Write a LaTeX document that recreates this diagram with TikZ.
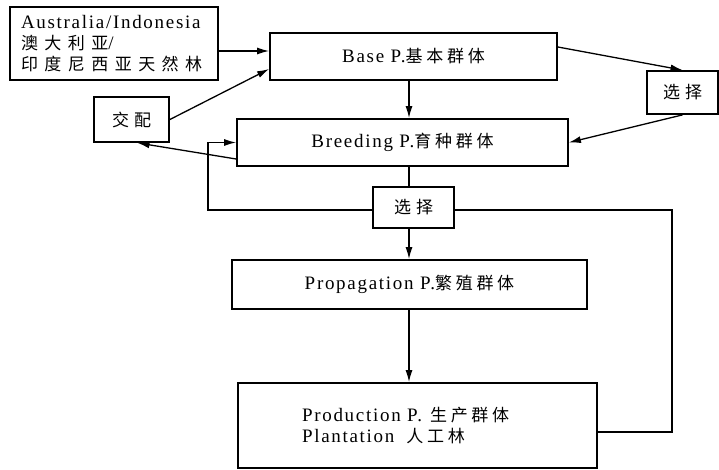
\documentclass[tikz,border=0pt]{standalone}
\usepackage{fontspec}
\setmainfont{Liberation Serif}[LetterSpace=9]
\newfontfamily\cjk{Noto Sans CJK SC}[LetterSpace=22]
\newfontfamily\cjkwide{Noto Sans CJK SC}[LetterSpace=38]
\newcommand{\zh}[1]{{\cjk\fontsize{17}{21}\selectfont #1}}
\newcommand{\zhw}[1]{{\cjkwide\fontsize{17}{21}\selectfont #1}}
\usetikzlibrary{positioning,calc,arrows.meta}

\begin{document}
\begin{tikzpicture}[x=1pt,y=-1pt,
    font=\fontsize{19}{21}\selectfont,
    box/.style={draw,line width=1.8pt,rectangle,inner sep=0pt},
    arr/.style={-{Latex[length=12pt,width=7pt]},line width=1.3pt},
    line/.style={line width=1.3pt}]
    \useasboundingbox (0,0) rectangle (719,470);

    % Natural forest, base and breeding populations
    \node[box,minimum width=208,minimum height=73,text width=186,align=left] (aus) at (114,43.5) {Australia/Indonesia\\ \zhw{澳大利亚}/\\ \zhw{印度尼西亚天然林}};
    \node[box,minimum width=287,minimum height=47] (base) at (413.5,56.5) {Base P.\zh{基本群体}};
    \node[box,minimum width=75,minimum height=45] (mate) at (131.5,119.5) {\zh{交\hspace{5pt}配}};
    \node[box,minimum width=331,minimum height=47] (breed) at (402.5,142.5) {Breeding P.\zh{育种群体}};
    \node[box,minimum width=71,minimum height=43] (selR) at (682.5,92.5) {\zh{选\hspace{5pt}择}};

    % Selection, propagation and production
    \node[box,minimum width=81,minimum height=41] (selM) at (413.5,207.5) {\zh{选\hspace{5pt}择}};
    \node[box,minimum width=355,minimum height=49] (prop) at (409.5,284.5) {Propagation P.\zh{繁殖群体}};
    \node[box,minimum width=359,minimum height=85,text width=231,align=left] (prod) at (417.5,425.5) {Production P.\hspace{8pt}\zh{生产群体}\\Plantation\hspace{12pt}\zh{人工林}};

    % Connectors
    \coordinate (axis) at (409,0);
    \coordinate (inA) at ([yshift=5.5]base.west);
    \coordinate (fbR) at (672,210);
    \coordinate (fbL) at (208,210);
    \draw[arr] (aus.east |- inA) -- (inA);
    \draw[arr] (mate.east) -- ([yshift=-12.5]base.west);
    \draw[arr] (base.south -| axis) -- (breed.north -| axis);
    \draw[arr] ([yshift=9.5]base.east) -- (selR.north);
    \draw[arr] (selR.south) -- (breed.east);
    \draw[arr] ([yshift=-16.5]breed.west) -- ([xshift=6]mate.south);
    \draw[line] (breed.south -| axis) -- (selM.north -| axis);
    \draw[arr] (selM.south -| axis) -- (prop.north -| axis);
    \draw[arr] (prop.south -| axis) -- (prod.north -| axis);

    % Feedback from plantation
    \draw[line] ([yshift=-6.5]prod.east) -| (fbR) -- (selM.east |- fbR);
    \draw[arr] (selM.west |- fbL) -- (fbL) |- (breed.west);
\end{tikzpicture}
\end{document}
